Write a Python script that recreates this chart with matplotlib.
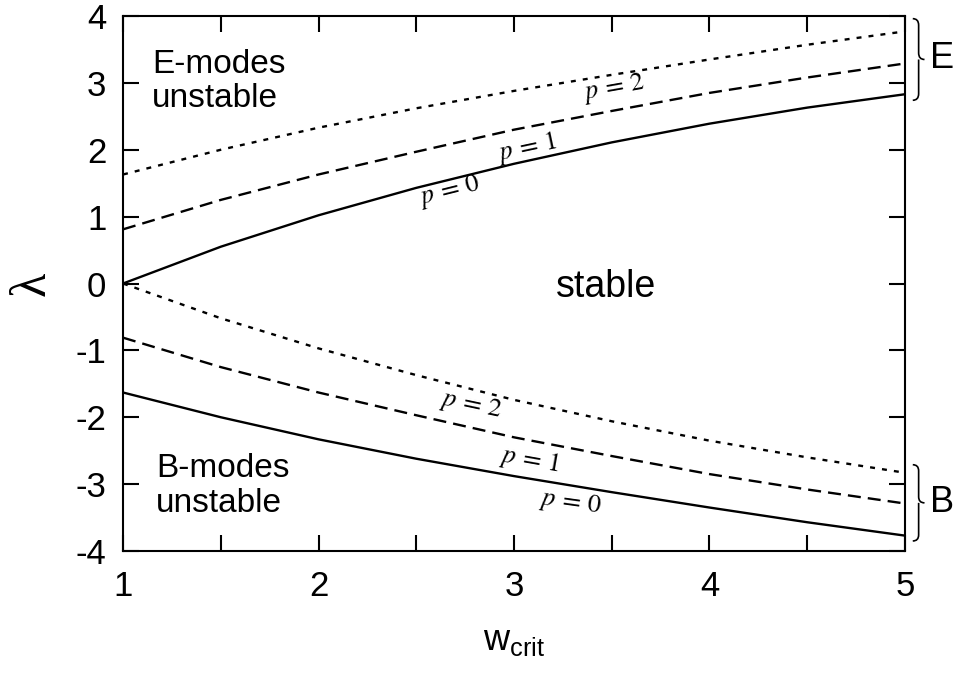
import numpy as np
import matplotlib
matplotlib.use("Agg")
import matplotlib.pyplot as plt
from matplotlib.path import Path
from matplotlib.patches import PathPatch

plt.rcParams['font.family'] = ['Liberation Sans', 'DejaVu Sans']
plt.rcParams['mathtext.fontset'] = 'stix'
plt.rcParams['axes.unicode_minus'] = False

# values
w_crit = [1.0, 1.5, 2.0, 2.5, 3.0, 3.5, 4.0, 4.5, 5.0]
e_p0 = [0.00, 0.55, 1.02, 1.43, 1.79, 2.11, 2.39, 2.63, 2.83]
e_p1 = [0.81, 1.25, 1.63, 1.97, 2.30, 2.58, 2.85, 3.08, 3.29]
e_p2 = [1.63, 2.00, 2.33, 2.62, 2.88, 3.12, 3.35, 3.57, 3.77]
b_p0 = [-1.63, -2.00, -2.33, -2.62, -2.88, -3.12, -3.35, -3.57, -3.77]
b_p1 = [-0.81, -1.25, -1.63, -1.97, -2.30, -2.58, -2.85, -3.08, -3.29]
b_p2 = [0.00, -0.52, -0.97, -1.37, -1.74, -2.06, -2.35, -2.60, -2.83]

x_ticks = [1, 2, 3, 4, 5]
y_ticks = [-4, -3, -2, -1, 0, 1, 2, 3, 4]

lw = 1.7
dashed = (0, (5.5, 3.0))
dotted = (0, (2.1, 3.0))


def brace(ax, x0, x1, ytop, ybot):
    # right-pointing curly brace drawn in data coords
    xm = (x0 + x1) / 2
    ymid = (ytop + ybot) / 2
    r = (ytop - ybot) * 0.08
    verts = [(x0, ytop), (xm, ytop), (xm, ytop - r),
             (xm, ymid + r),
             (xm, ymid), (x1, ymid),
             (xm, ymid), (xm, ymid - r),
             (xm, ybot + r),
             (xm, ybot), (x0, ybot)]
    codes = [Path.MOVETO, Path.CURVE3, Path.CURVE3,
             Path.LINETO,
             Path.CURVE3, Path.CURVE3,
             Path.MOVETO, Path.CURVE3,
             Path.LINETO,
             Path.CURVE3, Path.CURVE3]
    ax.add_patch(PathPatch(Path(verts, codes), facecolor='none',
                           edgecolor='black', lw=1.2, clip_on=False))


fig = plt.figure(figsize=(9.62, 6.75), dpi=100)
ax = fig.add_axes([0.1279, 0.1837, 0.8128, 0.7926])

ax.plot(w_crit, e_p0, color='black', lw=lw)
ax.plot(w_crit, e_p1, color='black', lw=lw, linestyle=dashed)
ax.plot(w_crit, e_p2, color='black', lw=lw, linestyle=dotted)
ax.plot(w_crit, b_p0, color='black', lw=lw)
ax.plot(w_crit, b_p1, color='black', lw=lw, linestyle=dashed)
ax.plot(w_crit, b_p2, color='black', lw=lw, linestyle=dotted)

ax.set_xlim(1, 5)
ax.set_ylim(-4, 4)
ax.set_xticks(x_ticks)
ax.set_xticks(np.arange(1.5, 5, 1.0), minor=True)
ax.set_yticks(y_ticks)
ax.tick_params(axis='both', which='both', direction='in', length=11.5,
               width=1.5, top=True, right=True, labelsize=25)
ax.tick_params(axis='x', which='major', pad=14)
ax.tick_params(axis='y', which='major', pad=12)
for s in ax.spines.values():
    s.set_linewidth(1.5)

ax.set_xlabel(r'$\mathregular{w_{crit}}$', fontsize=26, labelpad=14)
ax.set_ylabel('λ', fontsize=36, family=['Liberation Serif', 'DejaVu Serif'],
              labelpad=14)

ax.text(1.15, 3.02, 'E-modes\nunstable', fontsize=24, va='center', ha='left',
        linespacing=1.15)
ax.text(1.17, -3.03, 'B-modes\nunstable', fontsize=24, va='center', ha='left',
        linespacing=1.15)
ax.text(3.47, -0.05, 'stable', fontsize=27, ha='center', va='center')

lab = dict(fontsize=19, ha='center', va='center')
ax.text(2.67, 1.37, r'$p\,=\,0$', rotation=14, **lab)
ax.text(3.07, 2.03, r'$p\,=\,1$', rotation=12, **lab)
ax.text(3.51, 2.92, r'$p\,=\,2$', rotation=10, **lab)
ax.text(2.78, -1.82, r'$p\,=\,2$', rotation=-12, **lab)
ax.text(3.08, -2.64, r'$p\,=\,1$', rotation=-10, **lab)
ax.text(3.29, -3.28, r'$p\,=\,0$', rotation=-8, **lab)

brace(ax, 5.04, 5.10, 3.96, 2.74)
brace(ax, 5.04, 5.10, -2.71, -3.85)
ax.text(5.13, 3.37, 'E', fontsize=26, ha='left', va='center', clip_on=False)
ax.text(5.13, -3.28, 'B', fontsize=26, ha='left', va='center', clip_on=False)

fig.savefig('out.png', dpi=100)
